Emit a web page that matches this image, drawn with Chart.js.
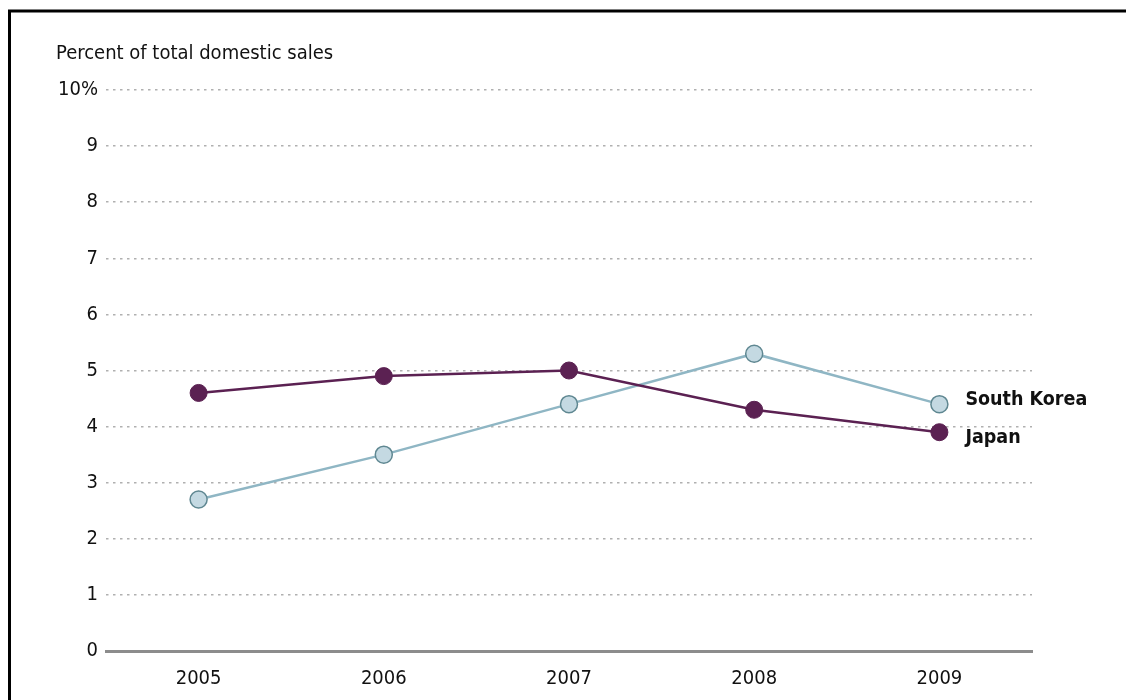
<!DOCTYPE html>
<html>
<head>
<meta charset="utf-8">
<script src="https://cdn.jsdelivr.net/npm/chart.js@4.4.0/dist/chart.umd.min.js"></script>
<style>
    html, body { margin: 0; padding: 0; background: #fff; }
    #wrap { width: 1126px; height: 700px; position: relative; }
</style>
</head>
<body>
<div id="wrap"><canvas id="salesChart"></canvas></div>
<script>
var years = ['2005', '2006', '2007', '2008', '2009'];
var japanData = [4.6, 4.9, 5.0, 4.3, 3.9];
var koreaData = [2.7, 3.5, 4.4, 5.3, 4.4];
var seriesNames = ['Japan', 'South Korea'];
var yTitle = 'Percent of total domestic sales';

var FONT = '"Liberation Sans Narrow", "DejaVu Sans Condensed", sans-serif';

// frame, axis title and the end-of-line labels
var decorations = {
    id: 'decorations',
    beforeDraw: function (chart) {
        var ctx = chart.ctx;
        ctx.save();
        ctx.fillStyle = '#fff';
        ctx.fillRect(0, 0, chart.width, chart.height);
        ctx.strokeStyle = '#000';
        ctx.lineWidth = 3;
        ctx.beginPath();
        ctx.moveTo(9.5, chart.height + 5);
        ctx.lineTo(9.5, 11);
        ctx.lineTo(chart.width + 5, 11);
        ctx.stroke();
        ctx.restore();
    },
    afterDatasetsDraw: function (chart) {
        var ctx = chart.ctx;
        ctx.save();
        ctx.fillStyle = '#111';
        ctx.font = '20px ' + FONT;
        ctx.textAlign = 'left';
        ctx.textBaseline = 'middle';
        ctx.fillText(yTitle, 56, 54);

        ctx.font = 'bold 19.5px ' + FONT;
        var shift = [6, -4];
        chart.data.datasets.forEach(function (ds, i) {
            var pts = chart.getDatasetMeta(i).data;
            var last = pts[pts.length - 1];
            ctx.fillText(ds.label, last.x + 26, last.y + shift[i]);
        });
        ctx.restore();
    }
};

new Chart(document.getElementById('salesChart'), {
    type: 'line',
    data: {
        labels: years,
        datasets: [{
            label: seriesNames[0],
            data: japanData,
            borderColor: '#5b2152',
            backgroundColor: '#5b2152',
            borderWidth: 2.5,
            pointRadius: 8.5,
            pointBorderWidth: 1,
            pointBorderColor: '#5b2152',
            pointBackgroundColor: '#5b2152',
            order: 1
        }, {
            label: seriesNames[1],
            data: koreaData,
            borderColor: '#8fb6c4',
            backgroundColor: '#c4d9e2',
            borderWidth: 2.5,
            pointRadius: 8.5,
            pointBorderWidth: 1.5,
            pointBorderColor: '#5f8791',
            pointBackgroundColor: '#c4d9e2',
            order: 2
        }]
    },
    options: {
        responsive: true,
        maintainAspectRatio: false,
        animation: false,
        layout: { padding: { left: 0, top: 90, right: 94, bottom: 0 } },
        plugins: {
            legend: { display: false },
            tooltip: { enabled: false }
        },
        scales: {
            x: {
                offset: true,
                grid: { display: false },
                border: { display: true, color: '#8c8c8c', width: 3 },
                ticks: { color: '#111', font: { family: FONT, size: 20 }, padding: 8 },
                afterFit: function (scale) { scale.height = 49; }
            },
            y: {
                min: 0,
                max: 10,
                grid: { color: '#b0b0b0', lineWidth: 1.5, drawTicks: false },
                border: { display: false, dash: [2.5, 4.5] },
                ticks: {
                    stepSize: 1,
                    padding: 8,
                    color: '#111',
                    font: { family: FONT, size: 20 },
                    callback: function (v) { return v === 10 ? v + '%' : v; }
                },
                afterFit: function (scale) { scale.width = 106; }
            }
        }
    },
    plugins: [decorations]
});
</script>
</body>
</html>
